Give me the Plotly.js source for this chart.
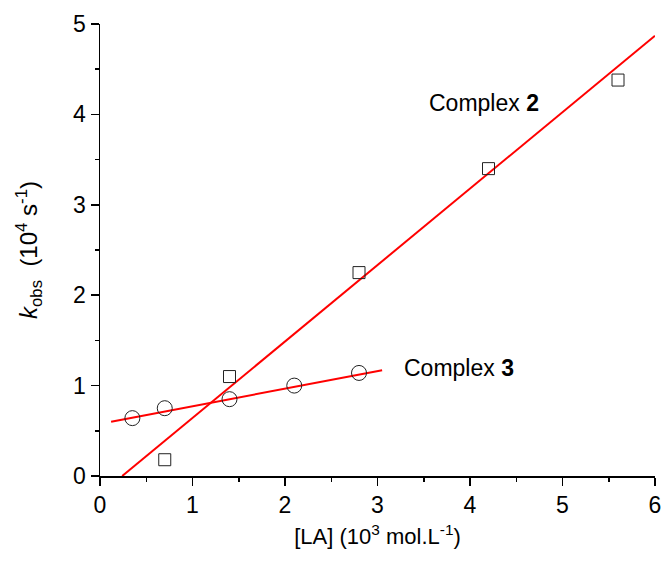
<!DOCTYPE html>
<html><head><meta charset="utf-8">
<script src="https://cdn.plot.ly/plotly-3.0.1.min.js"></script>
<style>body{margin:0;background:#fff}#c{width:664px;height:563px}</style>
</head><body><div id="c"></div>
<script>
const c2X = [0.7, 1.4, 2.8, 4.2, 5.6];
const c2Y = [0.18, 1.1, 2.25, 3.4, 4.38];
const c3X = [0.35, 0.7, 1.4, 2.1, 2.8];
const c3Y = [0.64, 0.75, 0.85, 1.0, 1.14];
const fit2X = [0.24, 6.0];
const fit2Y = [0.0, 4.87];
const fit3X = [0.12, 3.05];
const fit3Y = [0.6, 1.17];
const labels = ["Complex <b>2</b>", "Complex <b>3</b>"];
const labelX = [3.53, 3.27];
const labelY = [4.13, 1.19];

const font = "Liberation Sans, Arial, sans-serif";
const traces = [
  {x: fit2X, y: fit2Y, mode: 'lines', line: {color: '#ff0000', width: 2}},
  {x: fit3X, y: fit3Y, mode: 'lines', line: {color: '#ff0000', width: 2}},
  {x: c2X, y: c2Y, mode: 'markers', marker: {symbol: 'square-open', size: 12, color: '#222', line: {width: 1}}},
  {x: c3X, y: c3Y, mode: 'markers', marker: {symbol: 'circle-open', size: 15, color: '#222', line: {width: 1}}}
];
const layout = {
  width: 664, height: 563,
  margin: {l: 100, r: 9, t: 24, b: 87},
  showlegend: false,
  paper_bgcolor: '#fff', plot_bgcolor: '#fff',
  font: {family: font, color: '#000'},
  xaxis: {
    range: [0, 6], dtick: 1, tick0: 0, showgrid: false, zeroline: false,
    showline: true, linecolor: '#000', linewidth: 1.5,
    ticks: 'outside', ticklen: 8, tickwidth: 1.5, tickcolor: '#000',
    minor: {dtick: 0.5, ticks: 'outside', ticklen: 4, tickwidth: 1.5, tickcolor: '#000', showgrid: false},
    tickfont: {size: 23, family: font},
    title: {text: '[LA] (10<sup>3</sup> mol.L<sup>-1</sup>)', font: {size: 22, family: font}, standoff: 11}
  },
  yaxis: {
    range: [0, 5], dtick: 1, tick0: 0, showgrid: false, zeroline: false,
    showline: true, linecolor: '#000', linewidth: 1.5,
    ticks: 'outside', ticklen: 8, tickwidth: 1.5, tickcolor: '#000',
    minor: {dtick: 0.5, ticks: 'outside', ticklen: 4, tickwidth: 1.5, tickcolor: '#000', showgrid: false},
    tickfont: {size: 23, family: font},
    title: {text: '<i>k</i><sub>obs</sub>  (10<sup>4</sup> s<sup>-1</sup>)', font: {size: 24, family: font}, standoff: 28}
  },
  annotations: labels.map((t, i) => ({
    x: labelX[i], y: labelY[i], xref: 'x', yref: 'y', text: t, showarrow: false,
    xanchor: 'left', yanchor: 'middle', font: {size: 23, family: font, color: '#000'}
  }))
};
Plotly.newPlot('c', traces, layout, {displayModeBar: false, staticPlot: true});
</script></body></html>
